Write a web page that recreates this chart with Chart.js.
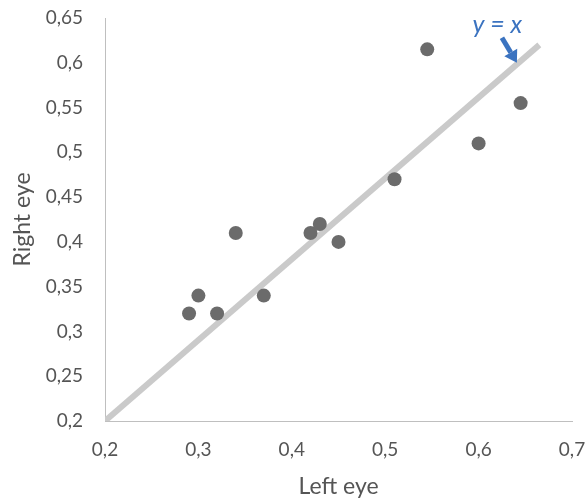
<!DOCTYPE html>
<html>
<head>
<meta charset="utf-8">
<script src="https://cdn.jsdelivr.net/npm/chart.js@4/dist/chart.umd.min.js"></script>
<style>
  html, body { margin: 0; padding: 0; background: #fff; }
  #wrap { width: 585px; height: 502px; }
</style>
</head>
<body>
<div id="wrap"><canvas id="eyes"></canvas></div>
<script>
// measurements per subject
const leftEye  = [0.29, 0.30, 0.32, 0.34, 0.37, 0.42, 0.43, 0.45, 0.51, 0.545, 0.60, 0.645];
const rightEye = [0.32, 0.34, 0.32, 0.41, 0.34, 0.41, 0.42, 0.40, 0.47, 0.615, 0.51, 0.555];

// reference line, as drawn
const refLineX = [0.2, 0.665];
const refLineY = [0.2, 0.62];

// label + arrow for the reference line
const refLabel = { text: "y = x", x: 0.62, y: 0.642 };
const refArrow = { from: [0.625, 0.628], to: [0.641, 0.6] };

const fontFamily = "Lato, 'Open Sans', sans-serif";
const textColor = "#555555";

function fmt(v) {
  return String(Math.round(v * 100) / 100).replace(".", ",");
}

const arrowLabel = {
  id: "arrowLabel",
  afterDatasetsDraw(chart) {
    const { ctx, scales } = chart;
    const x = scales.x, y = scales.y;
    ctx.save();
    ctx.fillStyle = "#3b73c0";
    ctx.strokeStyle = "#3b73c0";
    ctx.font = "italic 25px " + fontFamily;
    ctx.textAlign = "center";
    ctx.textBaseline = "middle";
    ctx.fillText(refLabel.text, x.getPixelForValue(refLabel.x), y.getPixelForValue(refLabel.y));

    const x0 = x.getPixelForValue(refArrow.from[0]);
    const y0 = y.getPixelForValue(refArrow.from[1]);
    const x1 = x.getPixelForValue(refArrow.to[0]);
    const y1 = y.getPixelForValue(refArrow.to[1]);
    const ang = Math.atan2(y1 - y0, x1 - x0);
    const head = 12;
    const bx = x1 - head * Math.cos(ang);
    const by = y1 - head * Math.sin(ang);
    ctx.lineWidth = 5;
    ctx.beginPath();
    ctx.moveTo(x0, y0);
    ctx.lineTo(bx, by);
    ctx.stroke();
    ctx.beginPath();
    ctx.moveTo(x1, y1);
    ctx.lineTo(bx + 7.5 * Math.cos(ang + Math.PI / 2), by + 7.5 * Math.sin(ang + Math.PI / 2));
    ctx.lineTo(bx + 7.5 * Math.cos(ang - Math.PI / 2), by + 7.5 * Math.sin(ang - Math.PI / 2));
    ctx.closePath();
    ctx.fill();
    ctx.restore();
  }
};

new Chart(document.getElementById("eyes"), {
  type: "scatter",
  data: {
    datasets: [
      {
        label: "Eyes",
        data: leftEye.map((v, i) => ({ x: v, y: rightEye[i] })),
        backgroundColor: "#6b6b6b",
        borderWidth: 0,
        pointRadius: 7,
        order: 1,
      },
      {
        type: "line",
        label: "y = x",
        data: refLineX.map((v, i) => ({ x: v, y: refLineY[i] })),
        borderColor: "#cacaca",
        borderWidth: 6,
        pointRadius: 0,
        fill: false,
        order: 2,
      },
    ],
  },
  options: {
    responsive: true,
    maintainAspectRatio: false,
    animation: false,
    layout: { padding: { top: 18, right: 13, left: 0, bottom: 0 } },
    plugins: { legend: { display: false }, tooltip: { enabled: false } },
    scales: {
      x: {
        type: "linear",
        min: 0.2,
        max: 0.7,
        afterFit(s) { s.height = 81; s.paddingLeft = 0; s.paddingRight = 0; },
        ticks: { stepSize: 0.1, padding: 17, color: textColor, font: { family: fontFamily, size: 19 }, callback: fmt },
        grid: { drawOnChartArea: false, drawTicks: false },
        border: { color: "#bfbfbf", width: 1 },
        title: {
          display: true,
          text: "Left eye",
          color: textColor,
          font: { family: fontFamily, size: 23 },
          padding: { top: 2, bottom: 2 },
        },
      },
      y: {
        type: "linear",
        min: 0.2,
        max: 0.65,
        afterFit(s) { s.width = 105; s.paddingTop = 0; s.paddingBottom = 0; },
        ticks: { stepSize: 0.05, padding: 22, color: textColor, font: { family: fontFamily, size: 19 }, callback: fmt },
        grid: { drawOnChartArea: false, drawTicks: false },
        border: { color: "#bfbfbf", width: 1 },
        title: {
          display: true,
          text: "Right eye",
          color: textColor,
          font: { family: fontFamily, size: 23 },
          padding: { top: 9, bottom: 2 },
        },
      },
    },
  },
  plugins: [arrowLabel],
});
</script>
</body>
</html>
